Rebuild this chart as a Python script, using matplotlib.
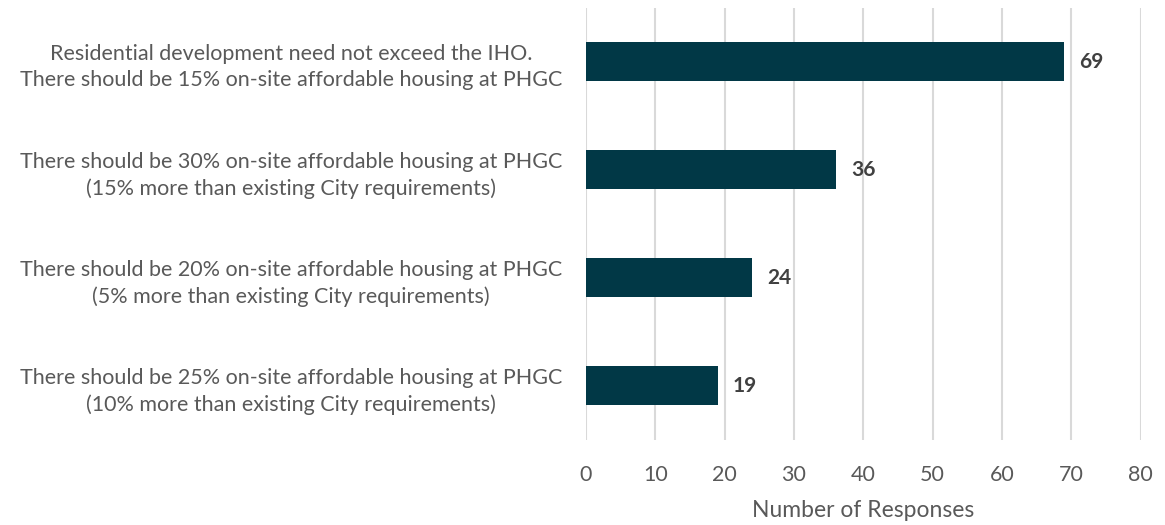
import matplotlib
matplotlib.use("Agg")
import matplotlib.pyplot as plt

categories = [
    "Residential development need not exceed the IHO.\nThere should be 15% on-site affordable housing at PHGC",
    "There should be 30% on-site affordable housing at PHGC\n(15% more than existing City requirements)",
    "There should be 20% on-site affordable housing at PHGC\n(5% more than existing City requirements)",
    "There should be 25% on-site affordable housing at PHGC\n(10% more than existing City requirements)",
]
responses = [69, 36, 24, 19]
x_ticks = [0, 10, 20, 30, 40, 50, 60, 70, 80]

plt.rcParams["font.family"] = ["Lato", "DejaVu Sans"]

fig = plt.figure(figsize=(11.65, 5.25), dpi=100)
ax = fig.add_axes([0.503, 0.162, 0.476, 0.823])

y = list(range(len(categories)))
ax.barh(y, responses, height=0.36, color="#013846", zorder=3)

for yi, v in zip(y, responses):
    ax.text(v + 2.2, yi, str(v), va="center", ha="left",
            fontsize=15, fontweight="bold", color="#404040")

ax.set_ylim(len(categories) - 0.5, -0.5)
ax.set_xlim(0, 80)
ax.set_xticks(x_ticks)
ax.set_yticks(y)
ax.set_yticklabels(categories, multialignment="center", linespacing=1.4)

ax.grid(axis="x", color="#d9d9d9", linewidth=1.5, zorder=0)
for s in ax.spines.values():
    s.set_visible(False)

ax.tick_params(axis="y", length=0, pad=17, labelsize=15.5, labelcolor="#595959")
ax.tick_params(axis="x", length=0, pad=18, labelsize=15.5, labelcolor="#595959")
ax.set_xlabel("Number of Responses", fontsize=16.5, color="#595959", labelpad=11)

fig.savefig("out.png", dpi=100)
